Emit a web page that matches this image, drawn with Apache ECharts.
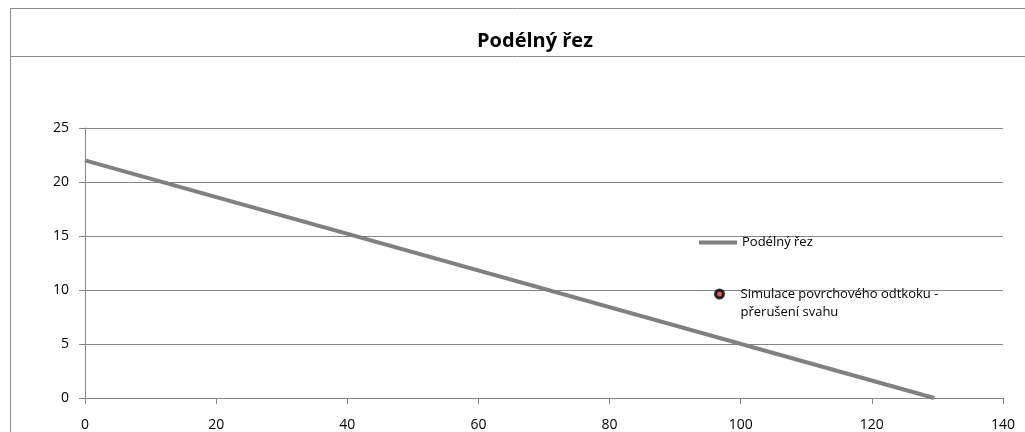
<!DOCTYPE html>
<html><head><meta charset="utf-8">
<script src="https://cdn.jsdelivr.net/npm/echarts@6/dist/echarts.min.js"></script>
<style>html,body{margin:0;padding:0;background:#fff}#c{width:1025px;height:432px}</style>
</head><body><div id="c"></div>
<script>
const titleText = "Podélný řez";
const lineName = "Podélný řez";
const scatterName = "Simulace povrchového odtkoku -\npřerušení svahu";
const profileX = [0, 129.5];
const profileY = [22, 0];
const scatterData = [];
const xTicks = [0, 20, 40, 60, 80, 100, 120, 140];
const yTicks = [0, 5, 10, 15, 20, 25];

const chart = echarts.init(document.getElementById('c'));
const font = "'Open Sans', 'Liberation Sans', sans-serif";
// circle icon drawn at the top of a tall box so it lines up with the first text line
const markerIcon = 'path://M0 4A4 4 0 1 1 8 4A4 4 0 1 1 0 4ZM4 26L4 26';
chart.setOption({
  animation: false,
  backgroundColor: '#fff',
  title: {
    text: titleText, left: 530, top: 26, textAlign: 'center',
    textStyle: {fontFamily: font, fontSize: 20, fontWeight: 'bold', color: '#000'}
  },
  graphic: [
    {type: 'line', shape: {x1: 10, y1: 8.5, x2: 1025, y2: 8.5}, style: {stroke: '#8c8c8c', lineWidth: 1}},
    {type: 'line', shape: {x1: 10.5, y1: 8, x2: 10.5, y2: 432}, style: {stroke: '#8c8c8c', lineWidth: 1}},
    {type: 'line', shape: {x1: 10, y1: 56.5, x2: 1025, y2: 56.5}, style: {stroke: '#8c8c8c', lineWidth: 1}}
  ],
  grid: {left: 85, right: 22, top: 128, bottom: 34},
  xAxis: {
    type: 'value', min: 0, max: 140, interval: 20,
    axisLine: {show: true, lineStyle: {color: '#868686'}},
    axisTick: {show: true, length: 6, lineStyle: {color: '#868686'}},
    splitLine: {show: false},
    axisLabel: {fontFamily: font, fontSize: 14, color: '#000', margin: 20,
      formatter: v => xTicks.includes(v) ? String(v) : ''}
  },
  yAxis: {
    type: 'value', min: 0, max: 25, interval: 5,
    axisLine: {show: true, lineStyle: {color: '#868686'}},
    axisTick: {show: true, length: 6, lineStyle: {color: '#868686'}},
    splitLine: {show: true, lineStyle: {color: '#868686', width: 1}},
    axisLabel: {fontFamily: font, fontSize: 14, color: '#000', margin: 16,
      formatter: v => yTicks.includes(v) ? String(v) : ''}
  },
  legend: [
    {
      data: [{name: lineName, icon: 'rect'}],
      left: 699, top: 236, orient: 'vertical', padding: 0,
      itemWidth: 38, itemHeight: 4,
      textStyle: {fontFamily: font, fontSize: 13, color: '#000'}
    },
    {
      data: [{name: scatterName, icon: markerIcon,
        itemStyle: {color: '#c0392b', borderColor: '#000', borderWidth: 3}}],
      left: 714, top: 285, orient: 'vertical', padding: 0,
      itemWidth: 8, itemHeight: 26,
      textStyle: {fontFamily: font, fontSize: 13, color: '#000', lineHeight: 18, padding: [0, 0, 0, 12]}
    }
  ],
  series: [
    {
      name: lineName, type: 'line', showSymbol: false, symbol: 'none',
      data: profileX.map((x, i) => [x, profileY[i]]),
      lineStyle: {color: '#808080', width: 4}, itemStyle: {color: '#808080'}
    },
    {
      name: scatterName, type: 'scatter', data: scatterData, symbolSize: 8,
      itemStyle: {color: '#c0392b', borderColor: '#000', borderWidth: 3}
    }
  ]
});
</script></body></html>
